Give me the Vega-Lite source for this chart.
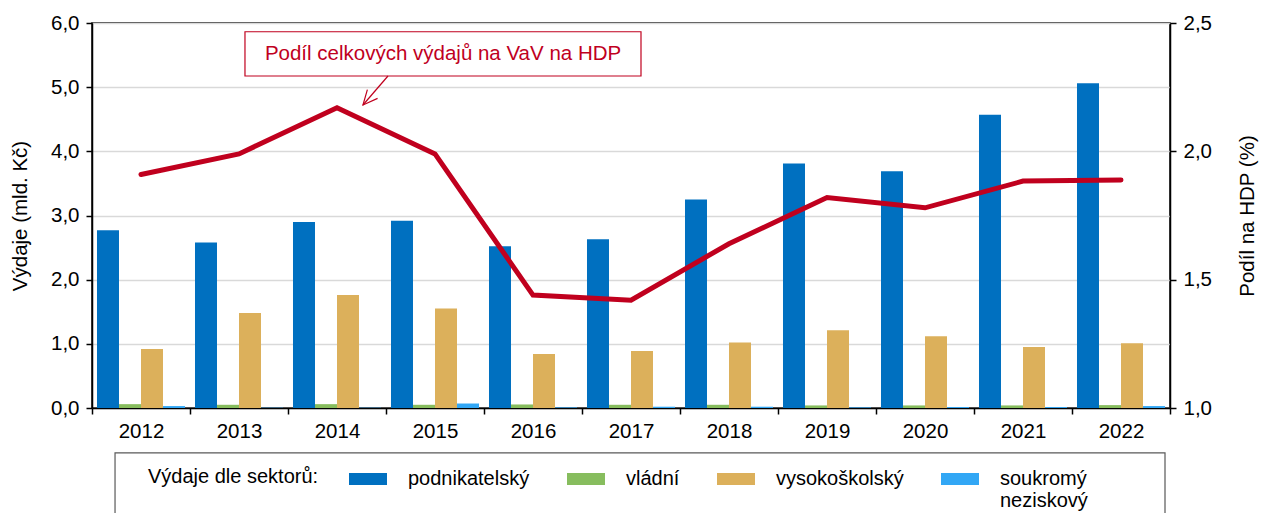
{
  "$schema": "https://vega.github.io/schema/vega-lite/v6.json",
  "width": 1078,
  "height": 385,
  "autosize": {"type": "none"},
  "padding": {"left": 92, "top": 23, "right": 91, "bottom": 105},
  "background": "white",
  "config": {
    "font": "Liberation Sans",
    "view": {"stroke": "black", "strokeWidth": 1.5},
    "axis": {
      "labelFont": "Liberation Sans",
      "titleFont": "Liberation Sans",
      "labelColor": "black",
      "titleColor": "black",
      "labelFontSize": 20.5,
      "titleFontSize": 20.5,
      "titleFontWeight": "normal",
      "domainColor": "black",
      "domainWidth": 1.5,
      "tickColor": "black",
      "tickWidth": 1.5,
      "tickSize": 6
    },
    "text": {"font": "Liberation Sans"}
  },
  "datasets": {
    "bars": [
      {"year": "2012", "sector": "podnikatelský", "value": 2.77},
      {"year": "2012", "sector": "vládní", "value": 0.06},
      {"year": "2012", "sector": "vysokoškolský", "value": 0.92},
      {"year": "2012", "sector": "soukromý neziskový", "value": 0.03},
      {"year": "2013", "sector": "podnikatelský", "value": 2.58},
      {"year": "2013", "sector": "vládní", "value": 0.05},
      {"year": "2013", "sector": "vysokoškolský", "value": 1.48},
      {"year": "2013", "sector": "soukromý neziskový", "value": 0.005},
      {"year": "2014", "sector": "podnikatelský", "value": 2.9},
      {"year": "2014", "sector": "vládní", "value": 0.06},
      {"year": "2014", "sector": "vysokoškolský", "value": 1.76},
      {"year": "2014", "sector": "soukromý neziskový", "value": 0.005},
      {"year": "2015", "sector": "podnikatelský", "value": 2.92},
      {"year": "2015", "sector": "vládní", "value": 0.05},
      {"year": "2015", "sector": "vysokoškolský", "value": 1.55},
      {"year": "2015", "sector": "soukromý neziskový", "value": 0.07},
      {"year": "2016", "sector": "podnikatelský", "value": 2.52},
      {"year": "2016", "sector": "vládní", "value": 0.055},
      {"year": "2016", "sector": "vysokoškolský", "value": 0.84},
      {"year": "2016", "sector": "soukromý neziskový", "value": 0.01},
      {"year": "2017", "sector": "podnikatelský", "value": 2.63},
      {"year": "2017", "sector": "vládní", "value": 0.05},
      {"year": "2017", "sector": "vysokoškolský", "value": 0.89},
      {"year": "2017", "sector": "soukromý neziskový", "value": 0.02},
      {"year": "2018", "sector": "podnikatelský", "value": 3.25},
      {"year": "2018", "sector": "vládní", "value": 0.05},
      {"year": "2018", "sector": "vysokoškolský", "value": 1.02},
      {"year": "2018", "sector": "soukromý neziskový", "value": 0.02},
      {"year": "2019", "sector": "podnikatelský", "value": 3.81},
      {"year": "2019", "sector": "vládní", "value": 0.04},
      {"year": "2019", "sector": "vysokoškolský", "value": 1.21},
      {"year": "2019", "sector": "soukromý neziskový", "value": 0.01},
      {"year": "2020", "sector": "podnikatelský", "value": 3.69},
      {"year": "2020", "sector": "vládní", "value": 0.04},
      {"year": "2020", "sector": "vysokoškolský", "value": 1.12},
      {"year": "2020", "sector": "soukromý neziskový", "value": 0.015},
      {"year": "2021", "sector": "podnikatelský", "value": 4.57},
      {"year": "2021", "sector": "vládní", "value": 0.04},
      {"year": "2021", "sector": "vysokoškolský", "value": 0.95},
      {"year": "2021", "sector": "soukromý neziskový", "value": 0.015},
      {"year": "2022", "sector": "podnikatelský", "value": 5.06},
      {"year": "2022", "sector": "vládní", "value": 0.045},
      {"year": "2022", "sector": "vysokoškolský", "value": 1.01},
      {"year": "2022", "sector": "soukromý neziskový", "value": 0.03}
    ],
    "hdp": [
      {"year": "2012", "hdp": 1.91},
      {"year": "2013", "hdp": 1.99},
      {"year": "2014", "hdp": 2.17},
      {"year": "2015", "hdp": 1.99},
      {"year": "2016", "hdp": 1.44},
      {"year": "2017", "hdp": 1.42},
      {"year": "2018", "hdp": 1.64},
      {"year": "2019", "hdp": 1.82},
      {"year": "2020", "hdp": 1.78},
      {"year": "2021", "hdp": 1.884},
      {"year": "2022", "hdp": 1.888}
    ],
    "box": [
      {"x1": 1.561, "x2": 5.602, "y1": 5.864, "y2": 5.174, "tx": 3.582, "ty": 5.517, "label": "Podíl celkových výdajů na VaV na HDP"}
    ],
    "legendbox": [
      {"x1": 0.235, "x2": 10.949, "y1": -0.70, "y2": -1.8}
    ],
    "arrow": [
      {"seg": "shaft", "o": 1, "ax": 3.02, "ay": 5.174},
      {"seg": "shaft", "o": 2, "ax": 2.765, "ay": 4.722},
      {"seg": "head", "o": 1, "ax": 2.914, "ay": 4.825},
      {"seg": "head", "o": 2, "ax": 2.765, "ay": 4.722},
      {"seg": "head", "o": 3, "ax": 2.81, "ay": 4.962}
    ]
  },
  "layer": [
    {
      "layer": [
        {
          "data": {"name": "bars"},
          "mark": {"type": "bar"},
          "encoding": {
            "x": {
              "field": "year",
              "type": "ordinal",
              "scale": {"paddingInner": 0, "paddingOuter": 0},
              "axis": {"title": null, "labelAngle": 0, "tickBand": "extent", "labelPadding": 7, "grid": false}
            },
            "xOffset": {
              "field": "sector",
              "type": "nominal",
              "scale": {"domain": ["podnikatelský", "vládní", "vysokoškolský", "soukromý neziskový"], "paddingInner": 0, "paddingOuter": 0.227}
            },
            "y": {
              "field": "value",
              "type": "quantitative",
              "scale": {"domain": [0, 6], "nice": false},
              "axis": {
                "values": [0, 1, 2, 3, 4, 5, 6],
                "labelExpr": "replace(format(datum.value, '.1f'), '.', ',')",
                "grid": true,
                "gridColor": "#D9D9D9",
                "gridWidth": 1.5,
                "title": "Výdaje (mld. Kč)",
                "titlePadding": 20,
                "labelPadding": 7
              }
            },
            "color": {
              "field": "sector",
              "type": "nominal",
              "scale": {
                "domain": ["podnikatelský", "vládní", "vysokoškolský", "soukromý neziskový"],
                "range": ["#0070C0", "#87BD5E", "#DCB05B", "#32A7F5"]
              },
              "legend": {
                "orient": "none",
                "legendX": 56,
                "legendY": 437,
                "direction": "horizontal",
                "title": "Výdaje dle sektorů:",
                "titleOrient": "left",
                "titleAnchor": "start",
                "titleBaseline": "line-top",
                "titleLineHeight": 34,
                "titleFontSize": 20,
                "titleFontWeight": "normal",
                "titleColor": "black",
                "titleFont": "Liberation Sans",
                "titlePadding": 30,
                "labelFont": "Liberation Sans",
                "labelFontSize": 20,
                "labelColor": "black",
                "labelOffset": 21,
                "labelExpr": "datum.label == 'soukromý neziskový' ? ['soukromý', 'neziskový'] : [datum.label, '']",
                "symbolType": "M-1,-0.316L1,-0.316L1,0.316L-1,0.316Z",
                "symbolSize": 1444,
                "symbolStrokeWidth": 0,
                "columnPadding": 37,
                "padding": 0
              }
            }
          }
        },
        {
          "data": {"name": "hdp"},
          "mark": {"type": "line", "color": "#C0001E", "strokeWidth": 5, "strokeCap": "round", "strokeJoin": "miter"},
          "encoding": {
            "x": {"field": "year", "type": "ordinal"},
            "y": {
              "field": "hdp",
              "type": "quantitative",
              "scale": {"domain": [1, 2.5], "nice": false, "zero": false},
              "axis": {
                "orient": "right",
                "values": [1, 1.5, 2, 2.5],
                "labelExpr": "replace(format(datum.value, '.1f'), '.', ',')",
                "grid": false,
                "title": "Podíl na HDP (%)",
                "titleAngle": 270,
                "titleBaseline": "top",
                "titlePadding": 26,
                "labelPadding": 7
              }
            }
          }
        }
      ],
      "resolve": {"scale": {"y": "independent"}}
    },
    {
      "layer": [
        {
          "data": {"name": "legendbox"},
          "mark": {"type": "rect", "filled": false, "stroke": "#595959", "strokeWidth": 1.2},
          "encoding": {
            "x": {"field": "x1", "type": "quantitative", "scale": {"domain": [0, 11], "nice": false, "zero": false}, "axis": null},
            "x2": {"field": "x2"},
            "y": {"field": "y1", "type": "quantitative", "scale": {"domain": [0, 6], "nice": false, "zero": false}, "axis": null},
            "y2": {"field": "y2"}
          }
        },
        {
          "data": {"name": "box"},
          "mark": {"type": "rect", "fill": "white", "stroke": "#C0001E", "strokeWidth": 1.2},
          "encoding": {
            "x": {"field": "x1", "type": "quantitative"},
            "x2": {"field": "x2"},
            "y": {"field": "y1", "type": "quantitative"},
            "y2": {"field": "y2"}
          }
        },
        {
          "data": {"name": "box"},
          "mark": {"type": "text", "color": "#C0001E", "fontSize": 20.5, "align": "center", "baseline": "middle"},
          "encoding": {
            "x": {"field": "tx", "type": "quantitative"},
            "y": {"field": "ty", "type": "quantitative"},
            "text": {"field": "label"}
          }
        },
        {
          "data": {"name": "arrow"},
          "mark": {"type": "line", "color": "#C0001E", "strokeWidth": 1.2},
          "encoding": {
            "x": {"field": "ax", "type": "quantitative"},
            "y": {"field": "ay", "type": "quantitative"},
            "detail": {"field": "seg"},
            "order": {"field": "o"}
          }
        }
      ]
    }
  ],
  "resolve": {"scale": {"x": "independent", "y": "independent"}}
}
